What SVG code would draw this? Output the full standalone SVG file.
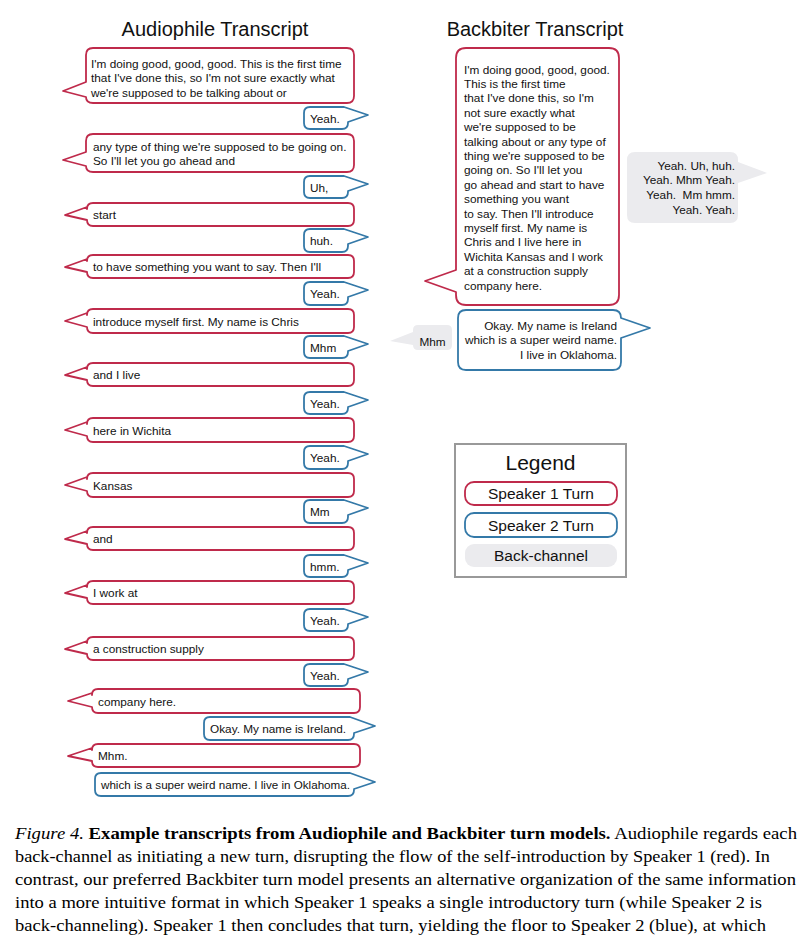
<svg xmlns="http://www.w3.org/2000/svg" width="811" height="943" viewBox="0 0 811 943">
<style>
.s1{fill:#fff;stroke:#bf2a4b;stroke-width:1.8;stroke-linejoin:round}
.s2{fill:#fff;stroke:#3479a8;stroke-width:1.8;stroke-linejoin:round}
.bc{fill:#ebebee;stroke:none}
.t{font-family:"Liberation Sans",Arial,sans-serif;font-size:11.8px;fill:#111}
.r{text-anchor:end}
.title{font-family:"Liberation Sans",Arial,sans-serif;font-size:20px;fill:#111;text-anchor:middle}
.lg{font-family:"Liberation Sans",Arial,sans-serif;font-size:15.5px;fill:#111;text-anchor:middle}
.cap{font-family:"Liberation Serif","Times New Roman",serif;font-size:17px;fill:#000}
</style>
<rect width="811" height="943" fill="#fff"/>
<text class="title" x="215" y="36">Audiophile Transcript</text>
<text class="title" x="535" y="36">Backbiter Transcript</text>

<g id="audiophile">
<g id="a1"><path class="s1" d="M93 48 H347 Q354 48 354 55 V96 Q354 103 347 103 H93 Q86 103 86 97 L63 91 L86 82 V55 Q86 48 93 48 Z"/>
<text class="t" x="91" y="67.5">I'm doing good, good, good. This is the first time</text>
<text class="t" x="91" y="82">that I've done this, so I'm not sure exactly what</text>
<text class="t" x="91" y="96.5">we're supposed to be talking about or</text></g>
<g id="a2"><path class="s2" d="M310 107 H344 L368 115 L348 122 V123 Q348 129 342 129 H310 Q304 129 304 123 V113 Q304 107 310 107 Z"/><text class="t" x="310" y="123">Yeah.</text></g>
<g id="a3"><path class="s1" d="M93 134 H347 Q354 134 354 141 V165 Q354 172 347 172 H93 Q86 172 86 166 L63 160 L86 152 V141 Q86 134 93 134 Z"/>
<text class="t" x="93" y="150.5">any type of thing we're supposed to be going on.</text>
<text class="t" x="93" y="165">So I'll let you go ahead and</text></g>
<g id="a4"><path class="s2" d="M310 176 H344 L368 184 L348 191 V192 Q348 198 342 198 H310 Q304 198 304 192 V182 Q304 176 310 176 Z"/><text class="t" x="310" y="192">Uh,</text></g>
<g id="a5"><path class="s1" d="M93 203 H348 Q354 203 354 209 V220 Q354 226 348 226 H93 Q87 226 87 220 L65 215 L87 207 V209 Q87 203 93 203 Z"/><text class="t" x="93" y="219">start</text></g>
<g id="a6"><path class="s2" d="M310 229 H344 L368 237 L348 244 V246 Q348 252 342 252 H310 Q304 252 304 246 V235 Q304 229 310 229 Z"/><text class="t" x="310" y="245">huh.</text></g>
<g id="a7"><path class="s1" d="M93 255 H348 Q354 255 354 261 V272 Q354 278 348 278 H93 Q87 278 87 272 L65 267 L87 259 V261 Q87 255 93 255 Z"/><text class="t" x="93" y="271">to have something you want to say. Then I'll</text></g>
<g id="a8"><path class="s2" d="M310 282 H344 L368 290 L348 297 V299 Q348 305 342 305 H310 Q304 305 304 299 V288 Q304 282 310 282 Z"/><text class="t" x="310" y="298">Yeah.</text></g>
<g id="a9"><path class="s1" d="M93 309 H348 Q354 309 354 315 V327 Q354 333 348 333 H93 Q87 333 87 327 L65 321 L87 313 V315 Q87 309 93 309 Z"/><text class="t" x="93" y="325.5">introduce myself first. My name is Chris</text></g>
<g id="a10"><path class="s2" d="M310 336 H344 L368 344 L348 351 V352 Q348 358 342 358 H310 Q304 358 304 352 V342 Q304 336 310 336 Z"/><text class="t" x="310" y="351.5">Mhm</text></g>
<g id="a11"><path class="s1" d="M93 363 H348 Q354 363 354 369 V380 Q354 386 348 386 H93 Q87 386 87 380 L65 375 L87 367 V369 Q87 363 93 363 Z"/><text class="t" x="93" y="379">and I live</text></g>
<g id="a12"><path class="s2" d="M310 392 H344 L368 400 L348 407 V408 Q348 414 342 414 H310 Q304 414 304 408 V398 Q304 392 310 392 Z"/><text class="t" x="310" y="407.5">Yeah.</text></g>
<g id="a13"><path class="s1" d="M93 418 H348 Q354 418 354 424 V436 Q354 442 348 442 H93 Q87 442 87 436 L65 430 L87 422 V424 Q87 418 93 418 Z"/><text class="t" x="93" y="434.5">here in Wichita</text></g>
<g id="a14"><path class="s2" d="M310 446 H344 L368 454 L348 461 V463 Q348 469 342 469 H310 Q304 469 304 463 V452 Q304 446 310 446 Z"/><text class="t" x="310" y="462">Yeah.</text></g>
<g id="a15"><path class="s1" d="M93 473 H348 Q354 473 354 479 V491 Q354 497 348 497 H93 Q87 497 87 491 L65 485 L87 477 V479 Q87 473 93 473 Z"/><text class="t" x="93" y="489.5">Kansas</text></g>
<g id="a16"><path class="s2" d="M310 500 H344 L368 508 L348 515 V517 Q348 523 342 523 H310 Q304 523 304 517 V506 Q304 500 310 500 Z"/><text class="t" x="310" y="516">Mm</text></g>
<g id="a17"><path class="s1" d="M93 527 H348 Q354 527 354 533 V544 Q354 550 348 550 H93 Q87 550 87 544 L65 539 L87 531 V533 Q87 527 93 527 Z"/><text class="t" x="93" y="543">and</text></g>
<g id="a18"><path class="s2" d="M310 555 H344 L368 563 L348 570 V571 Q348 577 342 577 H310 Q304 577 304 571 V561 Q304 555 310 555 Z"/><text class="t" x="310" y="570.5">hmm.</text></g>
<g id="a19"><path class="s1" d="M93 581 H348 Q354 581 354 587 V598 Q354 604 348 604 H93 Q87 604 87 598 L65 593 L87 585 V587 Q87 581 93 581 Z"/><text class="t" x="93" y="597">I work at</text></g>
<g id="a20"><path class="s2" d="M310 609 H344 L368 617 L348 624 V625 Q348 631 342 631 H310 Q304 631 304 625 V615 Q304 609 310 609 Z"/><text class="t" x="310" y="624.5">Yeah.</text></g>
<g id="a21"><path class="s1" d="M93 637 H348 Q354 637 354 643 V654 Q354 660 348 660 H93 Q87 660 87 654 L65 649 L87 641 V643 Q87 637 93 637 Z"/><text class="t" x="93" y="653">a construction supply</text></g>
<g id="a22"><path class="s2" d="M310 664 H344 L368 672 L348 679 V680 Q348 686 342 686 H310 Q304 686 304 680 V670 Q304 664 310 664 Z"/><text class="t" x="310" y="679.5">Yeah.</text></g>
<g id="a23"><path class="s1" d="M98 689 H354 Q360 689 360 695 V707 Q360 713 354 713 H98 Q92 713 92 707 L68 701 L92 693 V695 Q92 689 98 689 Z"/><text class="t" x="98" y="705.5">company here.</text></g>
<g id="a24"><path class="s2" d="M210 717 H350 L375 726 L354 733 V734 Q354 740 348 740 H210 Q204 740 204 734 V723 Q204 717 210 717 Z"/><text class="t" x="210" y="733">Okay. My name is Ireland.</text></g>
<g id="a25"><path class="s1" d="M98 744 H354 Q360 744 360 750 V761 Q360 767 354 767 H98 Q92 767 92 761 L68 756 L92 748 V750 Q92 744 98 744 Z"/><text class="t" x="98" y="760">Mhm.</text></g>
<g id="a26"><path class="s2" d="M101 773 H350 L375 782 L354 789 V790 Q354 796 348 796 H101 Q95 796 95 790 V779 Q95 773 101 773 Z"/><text class="t" x="101" y="789" textLength="249" lengthAdjust="spacingAndGlyphs">which is a super weird name. I live in Oklahoma.</text></g>
</g>

<g id="backbiter">
<g id="b1"><path class="s1" d="M466 48 H609 Q619 48 619 58 V295 Q619 305 609 305 H466 Q456 305 456 295 V292 L425 281 L456 270 V58 Q456 48 466 48 Z"/>
<text class="t" x="464" y="73.5">I'm doing good, good, good.</text>
<text class="t" x="464" y="87.9">This is the first time</text>
<text class="t" x="464" y="102.3">that I've done this, so I'm</text>
<text class="t" x="464" y="116.7">not sure exactly what</text>
<text class="t" x="464" y="131.1">we're supposed to be</text>
<text class="t" x="464" y="145.5">talking about or any type of</text>
<text class="t" x="464" y="159.9">thing we're supposed to be</text>
<text class="t" x="464" y="174.3">going on. So I'll let you</text>
<text class="t" x="464" y="188.7">go ahead and start to have</text>
<text class="t" x="464" y="203.1">something you want</text>
<text class="t" x="464" y="217.5">to say. Then I'll introduce</text>
<text class="t" x="464" y="231.9">myself first. My name is</text>
<text class="t" x="464" y="246.3">Chris and I live here in</text>
<text class="t" x="464" y="260.7">Wichita Kansas and I work</text>
<text class="t" x="464" y="275.1">at a construction supply</text>
<text class="t" x="464" y="289.5">company here.</text></g>
<g id="b2"><path class="bc" d="M635 152 H730 Q738 152 738 160 V162 L767 173 L738 183 V215 Q738 223 730 223 H635 Q627 223 627 215 V160 Q627 152 635 152 Z"/>
<text class="t r" x="735" y="169.5">Yeah. Uh, huh.</text>
<text class="t r" x="735" y="184.3">Yeah. Mhm Yeah.</text>
<text class="t r" x="735" y="199.1" xml:space="preserve">Yeah.  Mm hmm.</text>
<text class="t r" x="735" y="213.9">Yeah. Yeah.</text></g>
<g id="b3"><path class="s2" d="M466 310 H613 Q621 310 621 318 L650 328 L621 338 V362 Q621 370 613 370 H466 Q458 370 458 362 V318 Q458 310 466 310 Z"/>
<text class="t r" x="617" y="329.5">Okay. My name is Ireland</text>
<text class="t r" x="617" y="344">which is a super weird name.</text>
<text class="t r" x="617" y="358.5">I live in Oklahoma.</text></g>
<g id="b4"><path class="bc" d="M418 325 H447 Q452 325 452 330 V345 Q452 350 447 350 H418 Q413 350 413 345 L390 341 L413 332 V330 Q413 325 418 325 Z"/>
<text class="t" x="432.5" y="346" text-anchor="middle">Mhm</text></g>
</g>

<g id="legend">
<rect x="455" y="444" width="171" height="133" fill="#fff" stroke="#999" stroke-width="2"/>
<text x="540.5" y="470" font-family="Liberation Sans, Arial, sans-serif" font-size="21" text-anchor="middle" fill="#111">Legend</text>
<rect class="s1" x="465" y="482" width="152" height="23" rx="9"/>
<text class="lg" x="541" y="499">Speaker 1 Turn</text>
<rect class="s2" x="465" y="513" width="152" height="24" rx="9"/>
<text class="lg" x="541" y="530.5">Speaker 2 Turn</text>
<rect class="bc" x="465" y="544" width="152" height="23" rx="9"/>
<text class="lg" x="541" y="561">Back-channel</text>
</g>

<g id="caption">
<text class="cap" x="15" y="839" textLength="782" lengthAdjust="spacingAndGlyphs"><tspan font-style="italic">Figure 4.</tspan> <tspan font-weight="bold">Example transcripts from Audiophile and Backbiter turn models.</tspan> Audiophile regards each</text>
<text class="cap" x="15" y="862" textLength="755" lengthAdjust="spacingAndGlyphs">back-channel as initiating a new turn, disrupting the flow of the self-introduction by Speaker 1 (red). In</text>
<text class="cap" x="15" y="885" textLength="781" lengthAdjust="spacingAndGlyphs">contrast, our preferred Backbiter turn model presents an alternative organization of the same information</text>
<text class="cap" x="15" y="908" textLength="747" lengthAdjust="spacingAndGlyphs">into a more intuitive format in which Speaker 1 speaks a single introductory turn (while Speaker 2 is</text>
<text class="cap" x="15" y="931" textLength="751" lengthAdjust="spacingAndGlyphs">back-channeling). Speaker 1 then concludes that turn, yielding the floor to Speaker 2 (blue), at which</text>
</g>
</svg>
